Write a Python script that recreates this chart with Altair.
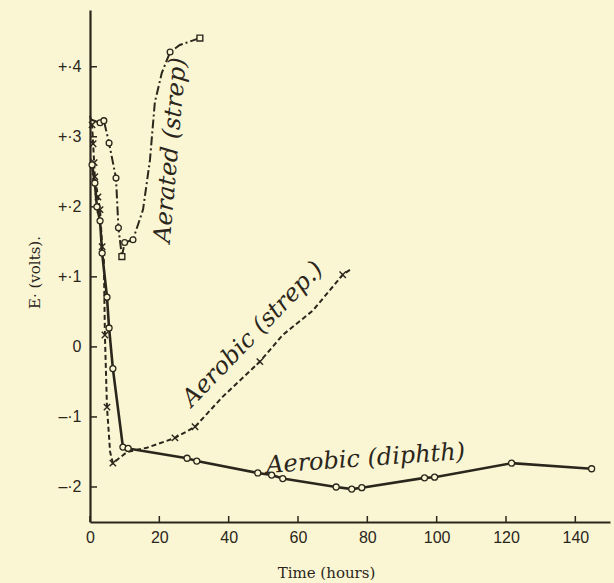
import altair as alt
import pandas as pd

# ---------------- data (time in hours, E in volts) ----------------
# Aerobic culture, diphtheria: solid line, open circles
diph_t = [0.6, 1.4, 2.0, 2.9, 3.5, 4.9, 5.5, 6.6, 9.5, 11.0, 28.0, 30.8,
          48.4, 52.4, 55.6, 71.0, 75.5, 78.4, 96.5, 99.4, 121.6, 144.7]
diph_v = [0.26, 0.234, 0.20, 0.18, 0.134, 0.071, 0.027, -0.031, -0.143, -0.145,
          -0.159, -0.163, -0.180, -0.183, -0.188, -0.200, -0.203, -0.201,
          -0.187, -0.186, -0.166, -0.174]

# Aerobic culture, streptococcus: dashed line, crosses
strep_t = [0.0, 0.6, 0.9, 1.2, 1.4, 2.3, 2.9, 3.5, 4.0, 4.3, 4.9, 5.8, 6.6,
           10.7, 16.4, 24.5, 30.3, 38.3, 49.0, 55.6, 64.3, 72.9, 75.0]
strep_v = [0.33, 0.317, 0.29, 0.263, 0.243, 0.214, 0.196, 0.143, 0.124, 0.017,
           -0.086, -0.150, -0.166, -0.150, -0.144, -0.130, -0.114, -0.071,
           -0.021, 0.017, 0.052, 0.103, 0.110]
strep_mark_t = [0.6, 0.9, 1.2, 1.4, 2.3, 2.9, 3.5, 4.3, 4.9, 6.6, 24.5, 30.3, 49.0, 72.9]
strep_mark_v = [0.317, 0.29, 0.263, 0.243, 0.214, 0.196, 0.143, 0.017, -0.086,
                -0.166, -0.130, -0.114, -0.021, 0.103]

# Aerated culture, streptococcus: dash-dot line
aer_t = [0.0, 2.9, 4.0, 5.5, 7.5, 8.2, 9.2, 10.0, 12.4, 15.3, 17.3, 18.7,
         20.7, 23.1, 25.9, 31.7]
aer_v = [0.325, 0.320, 0.323, 0.291, 0.241, 0.170, 0.129, 0.149, 0.153, 0.196,
         0.267, 0.349, 0.391, 0.421, 0.431, 0.441]
aer_circ_t = [2.9, 4.0, 5.5, 7.5, 8.2, 10.0, 12.4, 23.1]
aer_circ_v = [0.320, 0.323, 0.291, 0.241, 0.170, 0.149, 0.153, 0.421]
aer_sq_t = [9.2, 31.7]
aer_sq_v = [0.129, 0.441]

# curve captions
cap_text = ["Aerated (strep)", "Aerobic (strep.)", "Aerobic (diphth)"]
cap_t = [23.3, 47.0, 79.5]
cap_v = [0.281, 0.018, -0.160]
cap_angle = [275, 314, 356]

# axes
x_ticks = [0, 20, 40, 60, 80, 100, 120, 140]
y_ticks = [0.4, 0.3, 0.2, 0.1, 0.0, -0.1, -0.2]
y_tick_labels = ["+·4", "+·3", "+·2", "+·1", "0", "–·1", "–·2"]

INK = "#2b261b"
PAPER = "#faf6d4"

xs = alt.Scale(domain=[0, 150], nice=False, zero=False)
ys = alt.Scale(domain=[-0.25, 0.481], nice=False, zero=False)

label_expr = "[" + ",".join("'%s'" % s for s in y_tick_labels) + "][round((0.4 - datum.value) * 10)]"

x_axis = alt.Axis(
    values=x_ticks, ticks=False, grid=False, domainColor=INK, domainWidth=2.2,
    labelFont="Liberation Sans", labelFontSize=16, labelColor=INK, labelPadding=7,
    labelFlush=False,
    title="Time (hours)", titleFont="DejaVu Serif", titleFontSize=15,
    titleFontWeight="normal", titleColor=INK, titleX=236, titleY=50,
    titleAlign="center", titleBaseline="middle")
y_axis = alt.Axis(
    values=y_ticks, ticks=False, grid=False, domainColor=INK, domainWidth=2.2,
    labelExpr=label_expr, labelFont="Liberation Sans", labelFontSize=16,
    labelColor=INK, labelPadding=9, labelFlush=False,
    title="E· (volts).", titleFont="DejaVu Serif", titleFontSize=15,
    titleFontWeight="normal", titleColor=INK, titleX=-56, titleY=262,
    titleAngle=-90, titleAlign="center", titleBaseline="middle")


def frame(t, v):
    return pd.DataFrame({"t": t, "v": v, "i": range(len(t))})


X = lambda: alt.X("t:Q", scale=xs, axis=x_axis)
Y = lambda: alt.Y("v:Q", scale=ys, axis=y_axis)

# inward tick marks
ytick_marks = alt.Chart(pd.DataFrame({"v": y_ticks})).mark_rule(color=INK, strokeWidth=1.5).encode(
    y=Y(), x=alt.value(0), x2=alt.value(7))
xtick_marks = alt.Chart(pd.DataFrame({"t": x_ticks})).mark_rule(color=INK, strokeWidth=1.5).encode(
    x=X(), y=alt.value(512), y2=alt.value(506))

aer_line = alt.Chart(frame(aer_t, aer_v)).mark_line(
    color=INK, strokeWidth=2, strokeDash=[9, 3, 2, 3]).encode(x=X(), y=Y(), order="i:Q")
aer_circ = alt.Chart(frame(aer_circ_t, aer_circ_v)).mark_point(
    shape="circle", filled=True, fill=PAPER, stroke=INK, strokeWidth=1.3, size=34, opacity=1
).encode(x=X(), y=Y())
aer_sq = alt.Chart(frame(aer_sq_t, aer_sq_v)).mark_point(
    shape="square", filled=True, fill=PAPER, stroke=INK, strokeWidth=1.4, size=34, opacity=1
).encode(x=X(), y=Y())

strep_line = alt.Chart(frame(strep_t, strep_v)).mark_line(
    color=INK, strokeWidth=2, strokeDash=[5, 3]).encode(x=X(), y=Y(), order="i:Q")
strep_x = alt.Chart(frame(strep_mark_t, strep_mark_v)).mark_point(
    shape="M-1,-1L1,1M-1,1L1,-1", filled=False, stroke=INK, strokeWidth=1.4, size=40, opacity=1
).encode(x=X(), y=Y())

diph_line = alt.Chart(frame(diph_t, diph_v)).mark_line(
    color=INK, strokeWidth=2.6).encode(x=X(), y=Y(), order="i:Q")
diph_circ = alt.Chart(frame(diph_t, diph_v)).mark_point(
    shape="circle", filled=True, fill=PAPER, stroke=INK, strokeWidth=1.3, size=36, opacity=1
).encode(x=X(), y=Y())

captions = alt.Chart(pd.DataFrame({"t": cap_t, "v": cap_v, "txt": cap_text, "a": cap_angle})).mark_text(
    font="DejaVu Serif", fontStyle="italic", fontSize=24, color=INK, align="center", baseline="middle"
).encode(x=X(), y=Y(), text="txt:N", angle=alt.Angle("a:Q", scale=None))

chart = alt.layer(
    ytick_marks, xtick_marks,
    aer_line, strep_line, diph_line,
    aer_circ, aer_sq, strep_x, diph_circ,
    captions,
).properties(
    width=520, height=512,
    autosize=alt.AutoSizeParams(type="none"),
    padding={"left": 90, "top": 10, "right": 4, "bottom": 61},
).configure(background=PAPER).configure_view(stroke=None)

chart.save("out.html", embed_options={"renderer": "svg", "actions": False})
